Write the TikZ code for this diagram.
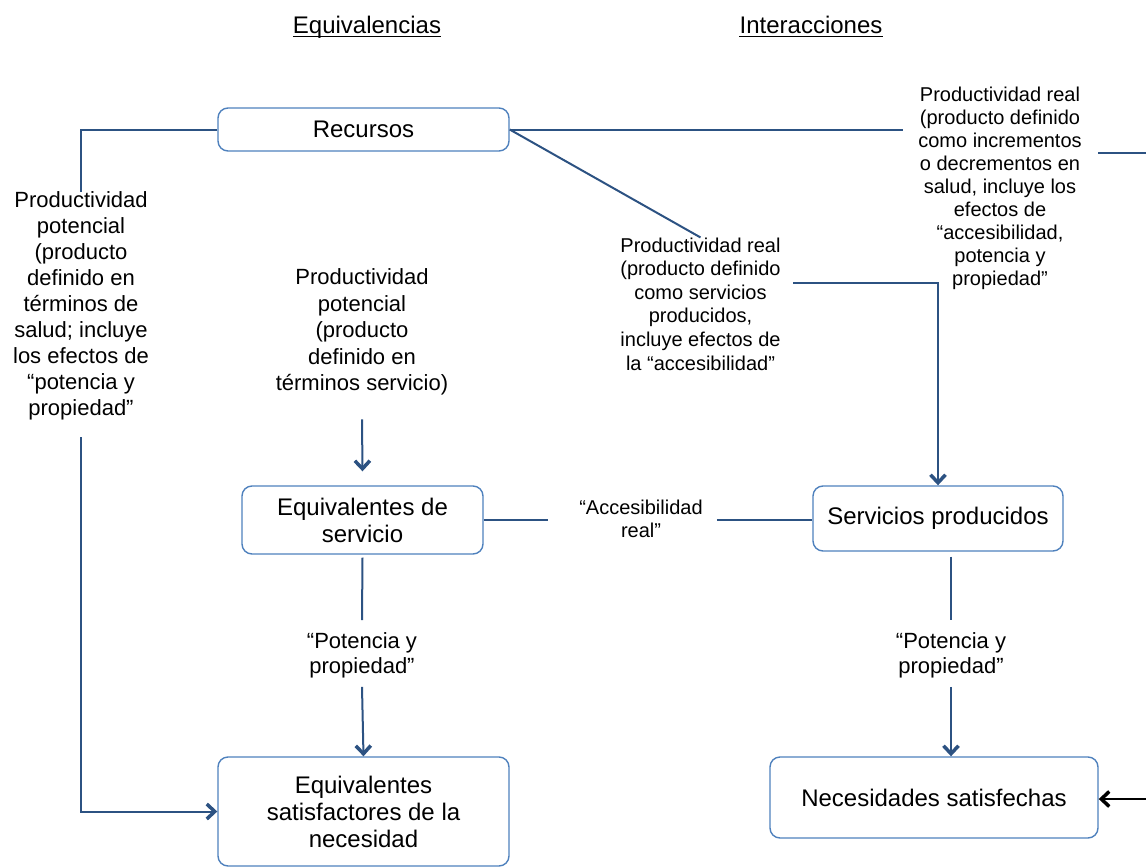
\documentclass[tikz,border=0pt]{standalone}
\usepackage{fontspec}
\setmainfont{Liberation Sans}
\usetikzlibrary{arrows.meta}
\definecolor{boxcol}{HTML}{4F81BD}
\definecolor{linecol}{HTML}{2C5282}
\begin{document}
\begin{tikzpicture}[x=1pt,y=-1pt,
  box/.style={draw=boxcol, line width=1.4pt, rounded corners=10pt, align=center, font=\fontsize{24}{27}\selectfont, inner sep=0pt},
  lbl/.style={align=center, inner sep=0pt},
  ttl/.style={inner sep=0pt, anchor=base, font=\fontsize{24}{28}\selectfont},
  conn/.style={draw=linecol, line width=2pt},
  tip/.style={-{Straight Barb[length=8pt,width=15pt,line width'=3.5pt]}},
  arr/.style={conn, tip},
]
\useasboundingbox (0,0) rectangle (1146,867);

% titles
\node[ttl] (t1) at (367,33.5) {Equivalencias};
\node[ttl] (t2) at (811,33.5) {Interacciones};
\draw[line width=1.8pt] ([yshift=-3pt]t1.base west) -- ([yshift=-3pt]t1.base east);
\draw[line width=1.8pt] ([yshift=-3pt]t2.base west) -- ([yshift=-3pt]t2.base east);

% boxes
\node[box, minimum width=291pt, minimum height=43pt] (rec) at (363.5,129.5) {Recursos};
\node[box, minimum width=241pt, minimum height=68pt] (eqs) at (362.5,520) {Equivalentes de\\servicio};
\node[box, minimum width=250pt, minimum height=65pt] (serv) at (938,518.5) {Servicios producidos};
\node[box, minimum width=291pt, minimum height=109pt] (sat) at (363.5,811.5) {Equivalentes\\satisfactores de la\\necesidad};
\node[box, minimum width=328pt, minimum height=81pt] (nec) at (934,797.5) {Necesidades satisfechas};

% labels
\node[lbl, font=\fontsize{22}{26}\selectfont] (lp) at (81,306) {Productividad\\potencial\\(producto\\definido en\\términos de\\salud; incluye\\los efectos de\\“potencia y\\propiedad”};
\node[lbl, font=\fontsize{22}{26.5}\selectfont] (mp) at (362,332) {Productividad\\potencial\\(producto\\definido en\\términos servicio)};
\node[lbl, font=\fontsize{20}{23}\selectfont] (tr) at (1000,188.5) {Productividad real\\(producto definido\\como incrementos\\o decrementos en\\salud, incluye los\\efectos de\\“accesibilidad,\\potencia y\\propiedad”};
\node[lbl, font=\fontsize{20}{23.6}\selectfont] (mr) at (700.5,304) {Productividad real\\(producto definido\\como servicios\\producidos,\\incluye efectos de\\la “accesibilidad”};
\node[lbl, font=\fontsize{20}{23}\selectfont] (acc) at (641,519) {“Accesibilidad\\real”};
\node[lbl, font=\fontsize{22}{25}\selectfont] (pp1) at (362,655) {“Potencia y\\propiedad”};
\node[lbl, font=\fontsize{22}{25}\selectfont] (pp2) at (951,655) {“Potencia y\\propiedad”};

% free ends
\coordinate (mrout) at (793,283);
\coordinate (trA) at (1098,153);
\coordinate (trB) at (1146,153);
\coordinate (necin) at (1146,799);

% connectors
\draw[conn] (rec.west) -| (lp.north);
\draw[arr] ([yshift=-17pt]lp.south) |- (sat.west);
\draw[arr] ([yshift=-24pt]mp.south) -- ([yshift=14pt]eqs.north);
\draw[conn] ([yshift=-3pt]eqs.south) -- ([yshift=12pt]pp1.north);
\draw[arr] ([yshift=-9pt]pp1.south) -- (sat.north);
\draw[conn] ([yshift=-5pt]pp2.north |- serv.south) -- ([yshift=12pt]pp2.north);
\draw[arr] ([yshift=-9pt]pp2.south) -- (pp2.south |- nec.north);
\draw[conn] (eqs.east) -- ([xshift=-31pt]acc.west |- eqs.east);
\draw[conn] ([xshift=14pt]acc.east |- eqs.east) -- (serv.west |- eqs.east);
\draw[conn] (rec.east) -- ([xshift=-15pt]tr.west |- rec.east);
\draw[conn] (rec.east) -- (mr.north);
\draw[arr] (mrout) -| (serv.north);
\draw[conn] (trA) -- (trB);
\draw[conn, draw=black, tip] (necin) -- (nec.east |- necin);
\end{tikzpicture}
\end{document}
